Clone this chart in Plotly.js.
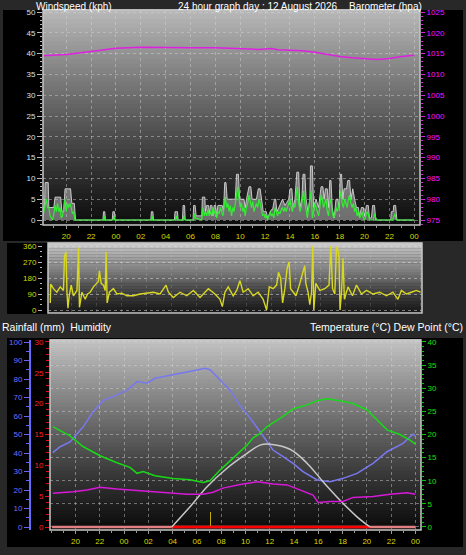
<!DOCTYPE html>
<html><head><meta charset="utf-8">
<script src="https://cdn.plot.ly/plotly-3.0.1.min.js"></script>
<style>html,body{margin:0;padding:0;background:#282828;}#chart{width:466px;height:555px;}</style>
</head><body><div id="chart"></div>
<script>
// ---- tick labels (hours relative to 00:00 of the day; negative = previous evening)
const hourTicks = [-4,-2,0,2,4,6,8,10,12,14,16,18,20,22,24];
const hourLabels = ['20','22','00','02','04','06','08','10','12','14','16','18','20','22','00'];
const dirTicks = [0,90,180,270,360];
const dirLabels = ['N','E','S','W','N'];

// ---- wind gust (kph)
const gustT = [-5.87,-5.75,-5.7,-5.45,-5.4,-5.0,-4.9,-4.45,-4.35,-4.2,-4.1,-3.65,-3.55,-3.35,-3.25,
 -1.05,-1.0,-0.9,-0.85,-0.3,-0.25,-0.12,-0.07,2.8,2.85,2.97,3.02,4.7,4.75,4.95,5.0,5.35,5.4,5.52,5.57,
 6.2,6.25,6.37,6.45,6.9,6.95,7.15,7.2,7.3,7.45,7.52,7.6,7.72,7.8,7.9,8.02,8.1,8.2,8.55,8.65,8.75,8.85,8.95,
 9.6,9.7,9.85,9.95,10.3,10.4,10.5,10.7,10.85,10.95,11.3,11.45,11.6,11.7,11.85,12.1,12.2,12.5,12.6,12.75,12.85,12.95,
 13.2,13.4,13.6,13.9,14.0,14.15,14.25,14.4,14.55,14.7,14.8,14.95,15.05,15.2,15.3,15.45,15.6,15.65,15.8,15.9,
 16.1,16.3,16.5,16.65,16.75,16.85,17.0,17.1,17.2,17.3,17.4,17.55,17.7,17.85,17.95,18.05,18.15,18.25,18.35,18.55,
 18.65,18.8,18.9,19.05,19.2,19.35,19.5,19.6,19.75,19.9,20.0,20.15,20.3,20.4,20.55,20.65,20.8,20.9,
 22.1,22.15,22.3,22.35,22.5,22.6,24.0];
const gustV = [3,3,9,9,3,3,5.5,5.5,2,2,7.5,7.5,4,4,0,
 0,2,2,0,0,2,2,0,0,2,2,0,0,2,2,0,0,3.5,3.5,0,
 0,3.5,3.5,1,1,5.5,5.5,2,3.5,3.5,1.5,3.5,3.5,1,3.5,3.5,1,3.5,3.5,2,9,9,5,
 5,11,11,5,5,3,5,8,8,5,5,7.5,7.5,5,2,2,0.5,2.5,2.5,5,5,2,
 3.5,5,3.5,5,7.5,7.5,3,5,11.5,11.5,3,5,11,11,5,2,5,13,13,3,
 5,3,8,8,5,7.5,7.5,3,9.5,9.5,3,0.5,5,5,3,11,11,5,7.5,7.5,
 9.5,9.5,5,7.5,5,3,3,1,3,3,1,3.5,3.5,0.5,0.5,3.5,3.5,0,
 0,2,2,3.5,3.5,0,0];

// ---- average wind speed (kph)
const speedT = [-5.87,-5.8,-5.7,-5.6,-5.5,-5.4,-5.3,-5.1,-5.0,-4.9,-4.8,-4.7,-4.6,-4.5,-4.4,-4.3,-4.2,-4.1,-4.0,-3.9,-3.8,-3.7,-3.6,-3.5,-3.4,-3.3,
 -0.95,-0.9,-0.85,-0.22,-0.18,-0.1,2.88,2.92,2.97,4.8,4.85,4.9,4.95,5.4,5.45,5.55,6.25,6.3,6.4,6.9,
 7.0,7.1,7.2,7.3,7.4,7.5,7.6,7.7,7.8,7.9,8.0,8.1,8.2,8.3,8.4,8.5,8.6,8.7,8.8,8.9,9.0,9.1,9.2,9.3,9.4,9.5,9.6,9.7,9.8,9.9,
 10.0,10.1,10.2,10.3,10.4,10.5,10.6,10.7,10.8,10.9,11.0,11.1,11.2,11.3,11.4,11.5,11.6,11.7,11.8,11.9,
 12.0,12.1,12.2,12.3,12.4,12.5,12.6,12.7,12.8,12.9,13.0,13.1,13.2,13.3,13.4,13.5,13.6,13.7,13.8,13.9,
 14.0,14.1,14.2,14.3,14.4,14.5,14.6,14.7,14.8,14.9,15.0,15.1,15.2,15.3,15.4,15.5,15.6,15.7,15.8,15.9,
 16.0,16.1,16.2,16.3,16.4,16.5,16.6,16.7,16.8,16.9,17.0,17.1,17.2,17.3,17.4,17.5,17.6,17.7,17.8,17.9,
 18.0,18.1,18.2,18.3,18.4,18.5,18.6,18.7,18.8,18.9,19.0,19.1,19.2,19.3,19.4,19.5,19.6,19.7,19.8,19.9,
 20.0,20.1,20.2,20.3,20.4,20.7,20.8,20.9,21.0,22.25,22.35,22.45,22.55,24.0];
const speedV = [1,2,3,5,3,3,1,0,1.5,3.5,2,4,2,3,0.5,1,3,5,2,4,3,4,3,1.5,2,0,
 0,1,0,0,1,0,0,1,0,0,1,0.5,0,0,1,0,0,1.5,0.5,0,
 3,1,2,1,2.5,1,2,1,3,1.5,2.5,0.5,2,1.5,3,2,1,3,5.5,3,4,2,3.5,1,3,2,4,6,8,5,
 3,4,2,3,1,3,4,6,4,3,4.5,2,3,4,3,5,4,2,1,1.5,
 0.5,1,0,1,2,1,1.5,0.5,3,2,1,2,1.5,2.5,3,2,3,2,3,4,
 5,3,2,4,3,6,8,4,2,3,5,7,4,2,0.5,3,5,7,0.5,2,
 4,3,2,1,3,6,5,3,4,5,2,1,4,5,2,0.5,1,3,2,3,
 5,7,4,3,5,4,3,5,6,4,3,4,2,3,1,2,0.5,1,2,0.5,
 0,1,2,1.5,0,0,1.5,0.5,0,0,1,1.5,0,0];

// ---- barometer (hPa)
const baroT = [-5.87,-4,-2,0,2,4,6,8,10,11.5,12.5,13,14,15,16,17,18,19,20,21,22,23,24];
const baroV = [1014.5,1014.8,1015.5,1016.3,1016.5,1016.4,1016.4,1016.4,1016.2,1016.0,1016.2,1015.9,1015.8,1015.7,1015.3,1014.8,1014.3,1014.0,1013.8,1013.6,1013.8,1014.3,1014.6];

// ---- wind direction (degrees)
const dirT = [-5.69,-5.65,-5.43,-5.16,-4.89,-4.63,-4.55,-4.43,-4.35,-4.27,-4.17,-4.01,-3.83,-3.55,-3.42,-3.35,-3.15,-2.89,-2.7,-2.49,-2.23,-2.01,-1.83,-1.75,-1.61,-1.43,-1.29,-1.21,-1.13,-0.95,-0.63,-0.35,
 0.05,0.45,0.98,1.51,2.05,2.58,3.11,3.59,3.78,4.17,4.71,5.25,5.78,6.31,6.98,7.51,7.91,8.1,8.31,8.57,8.97,9.25,9.51,9.77,
 10.17,10.57,10.97,11.37,11.65,11.86,12.17,12.45,12.6,12.77,12.93,13.11,13.29,13.45,13.57,14.0,14.27,14.53,14.7,14.79,14.97,15.11,15.25,15.35,15.43,15.59,15.91,
 16.31,16.65,16.79,16.93,17.11,17.25,17.35,17.45,17.53,17.65,17.77,17.88,18.17,18.53,18.85,19.25,19.65,20.17,20.71,21.25,21.77,22.17,22.45,22.85,23.25,23.65,23.97];
const dirV = [39,146,120,100,130,110,300,328,100,10,80,140,80,110,350,15,100,60,90,100,130,150,160,221,150,140,110,326,40,100,120,90,
 95,80,80,90,95,100,90,140,100,70,100,80,110,70,120,90,60,19,100,130,80,110,165,100,
 120,80,100,60,0,130,120,140,212,180,40,120,234,270,120,80,140,210,249,150,100,30,100,360,0,150,110,
 120,140,360,120,90,355,340,300,0,100,292,60,130,80,140,90,110,90,100,80,100,60,110,90,100,110,100];

// ---- humidity (%)
const humT = [-5.87,-5.27,-4.45,-3.38,-2.55,-1.73,-0.58,0.25,1.07,1.89,2.55,3.79,4.86,6.01,6.67,7.08,7.91,8.73,9.56,10.38,11.2,12.27,13.1,13.92,14.74,15.9,16.97,18.04,19.19,20.51,21.66,22.98,23.81,24.0];
const humV = [40.2,43.4,46,54,62.3,68.3,71.4,74,78.6,77.7,80.4,82.2,83.4,84.9,85.8,85,79.5,74,65.5,59,51.5,41.6,38,34.4,29.9,25.4,24.5,26.3,29,34.4,40.7,45.2,50.3,49];

// ---- temperature (°C)
const tempT = [-5.87,-4.45,-3.38,-1.98,-0.58,0.49,1.07,1.57,2.55,4.04,5.44,6.51,7.08,7.91,8.98,10.13,10.63,11.04,11.78,12.85,13.92,15.07,15.9,16.72,17.79,18.86,20.02,20.84,21.66,22.73,23.56,24.0];
const tempV = [21.7,19.7,17.4,15.4,13.9,12.9,11.6,12.0,11.1,10.5,10.2,9.6,10.0,12.3,14.9,17.7,19.3,19.9,21.7,23.5,25.5,26.4,27.3,27.7,27.3,26.7,25.3,23.1,21.0,20.0,18.8,17.9];

// ---- dew point (°C)
const dewT = [-5.87,-4.2,-3.05,-1.98,-0.58,1.32,2.72,4.04,5.19,6.51,7.33,8.15,9.56,11.04,12.27,13.43,14.5,15.57,15.98,16.97,18.04,18.86,20.51,21.91,23.31,24.0];
const dewV = [7.3,7.6,8.0,8.6,8.2,7.8,7.5,7.3,7.1,7.1,7.5,8.4,9.2,9.8,9.3,9.1,8.0,6.9,5.3,5.5,5.5,6.4,6.6,7.1,7.4,7.1];

// ---- solar curve (grey, drawn on the temperature scale)
const solarT = [3.93,5.44,6.84,8.48,10.13,11.2,12.03,13.67,15.07,16.39,17.79,19.19,20.26];
const solarV = [0,4.4,8.7,12.7,15.9,17.7,17.9,16.8,13.8,9.8,5.8,2.2,0];

// ---- rainfall (mm)
const rainT = [-5.93,24.0];
const rainV = [0,0];
const dayT = [3.93,20.26];
const dayV = [0,0];
const rainBarT = [7.14];
const rainBarV = [2.5];

// ================= drawing =================
const W = 466, H = 555;
const px = x => x / W;
const py = y => 1 - y / H;
const FONT = 'Liberation Sans, Arial, sans-serif';

const shapes = [];
function panel(x0, y0, x1, y1) {
  shapes.push({type:'rect', xref:'paper', yref:'paper', x0:px(x0), x1:px(x1), y0:py(y1), y1:py(y0),
    fillcolor:'#000000', line:{width:0}, layer:'below'});
}
panel(3, 10, 463, 241);
panel(7, 243, 422, 314);
panel(7, 338, 463, 547);

function gradient(xr, yr, top, bottom, n) {
  for (let i = 0; i < n; i++) {
    const f = (i + 0.5) / n;
    const c = Math.round(bottom + (top - bottom) * Math.pow(f, 1.15));
    shapes.push({type:'rect', xref:xr + ' domain', yref:yr + ' domain', x0:0, x1:1, y0:i/n, y1:(i+1)/n + 0.004,
      fillcolor:`rgb(${c},${c},${c})`, line:{width:0}, layer:'below'});
  }
  shapes.push({type:'rect', xref:xr + ' domain', yref:yr + ' domain', x0:0, x1:1, y0:0, y1:1,
    fillcolor:'rgba(0,0,0,0)', line:{width:1.5, color:'#c8c8c8'}, layer:'above'});
}
gradient('x', 'y', 185, 14, 48);
gradient('x2', 'y3', 205, 22, 24);
gradient('x3', 'y5', 195, 12, 48);

const gridCol = 'rgba(215,215,215,0.45)';
const tickFontX = {family:FONT, size:8, color:'#d8d800'};

const traces = [
  {x:gustT, y:gustV, xaxis:'x', yaxis:'y', type:'scatter', mode:'lines', fill:'tozeroy',
   fillcolor:'rgba(205,205,205,0.5)', line:{color:'rgba(220,220,220,0.85)', width:1}, name:'Gust'},
  {x:speedT, y:speedV, xaxis:'x', yaxis:'y', type:'scatter', mode:'lines',
   line:{color:'#30ee30', width:1.2}, name:'Speed'},
  {x:baroT, y:baroV, xaxis:'x', yaxis:'y2', type:'scatter', mode:'lines',
   line:{color:'#e020e0', width:1.5}, name:'Barometer'},
  {x:dirT, y:dirV, xaxis:'x2', yaxis:'y3', type:'scatter', mode:'lines',
   line:{color:'#d8d820', width:1.4}, name:'Direction'},
  {x:rainT, y:rainV, xaxis:'x3', yaxis:'y6', type:'scatter', mode:'lines',
   line:{color:'#e08080', width:2.5}, name:'Rainfall'},
  {x:dayT, y:dayV, xaxis:'x3', yaxis:'y6', type:'scatter', mode:'lines',
   line:{color:'#ff0000', width:2.5}, name:'Day'},
  {x:rainBarT, y:rainBarV, xaxis:'x3', yaxis:'y6', type:'bar', width:0.12,
   marker:{color:'rgba(220,200,0,0.85)', line:{width:0}}, name:'Rain'},
  {x:solarT, y:solarV, xaxis:'x3', yaxis:'y7', type:'scatter', mode:'lines',
   line:{color:'#c8c8c8', width:1.5, shape:'spline'}, name:'Solar'},
  {x:humT, y:humV, xaxis:'x3', yaxis:'y5', type:'scatter', mode:'lines',
   line:{color:'#7878f0', width:1.5}, name:'Humidity'},
  {x:dewT, y:dewV, xaxis:'x3', yaxis:'y7', type:'scatter', mode:'lines',
   line:{color:'#d818d8', width:1.5}, name:'Dew Point'},
  {x:tempT, y:tempV, xaxis:'x3', yaxis:'y7', type:'scatter', mode:'lines',
   line:{color:'#18d818', width:1.5}, name:'Temperature'}
];

const xCommon = {
  tickmode:'array', tickvals:hourTicks, ticktext:hourLabels, tickfont:tickFontX,
  ticks:'outside', ticklen:3, tickcolor:'#9a9a9a',
  showgrid:true, gridcolor:gridCol, griddash:'dot', gridwidth:1,
  zeroline:false, showline:false,
  minor:{tickmode:'linear', tick0:0, dtick:1, ticks:'outside', ticklen:2, tickcolor:'#9a9a9a', showgrid:false}
};

const layout = {
  width:W, height:H, margin:{l:0, r:0, t:0, b:0},
  paper_bgcolor:'#282828', plot_bgcolor:'rgba(0,0,0,0)',
  showlegend:false, hovermode:false, bargap:0,
  font:{family:FONT, color:'#ffffff'},
  xaxis: Object.assign({}, xCommon, {domain:[px(43), px(420)], range:[-5.87, 24.46], anchor:'y'}),
  yaxis: {domain:[py(225), py(10)], range:[-1.2, 50.48], tick0:0, dtick:5,
    tickfont:{family:FONT, size:8, color:'#d4e2ff'}, ticks:'outside', ticklen:5, tickcolor:'#b8b8b8',
    showgrid:true, gridcolor:gridCol, griddash:'dot', zeroline:false, showline:false,
    minor:{dtick:1, tick0:0, ticks:'outside', ticklen:2, tickcolor:'#b8b8b8', showgrid:false}},
  yaxis2: {overlaying:'y', side:'right', anchor:'x', range:[973.8, 1025.48], tick0:975, dtick:5,
    tickfont:{family:FONT, size:8, color:'#ff10ff'}, ticks:'outside', ticklen:4, tickcolor:'#e020e0',
    showgrid:false, zeroline:false, showline:false,
    minor:{dtick:1, tick0:975, ticks:'outside', ticklen:2, tickcolor:'#e020e0', showgrid:false}},
  xaxis2: {domain:[px(48), px(422)], range:[-5.87, 24.1], anchor:'y3', showticklabels:false,
    tickvals:hourTicks, ticks:'', showgrid:true, gridcolor:'rgba(215,215,215,0.18)', griddash:'dot',
    zeroline:false, showline:false},
  yaxis3: {domain:[py(313), py(243)], range:[-16.9, 376.9], tickmode:'array', tickvals:dirTicks,
    tickfont:{family:FONT, size:8, color:'#d8d800'}, ticks:'outside', ticklen:4, tickcolor:'#b8b8b8',
    showgrid:true, gridcolor:'rgba(225,225,225,0.5)', griddash:'dot', zeroline:false, showline:false,
    minor:{dtick:30, tick0:0, ticks:'outside', ticklen:2, tickcolor:'#b8b8b8', showgrid:false}},
  yaxis4: {overlaying:'y3', side:'right', anchor:'free', position:px(428), range:[-16.9, 376.9],
    tickmode:'array', tickvals:dirTicks, ticktext:dirLabels, ticks:'',
    tickfont:{family:FONT, size:11.5, color:'#ffffff'}, showgrid:false, zeroline:false, showline:false},
  xaxis3: Object.assign({}, xCommon, {domain:[px(50), px(421)], range:[-6.1, 24.46], anchor:'y5'}),
  yaxis5: {domain:[py(530), py(340)], range:[-1.62, 101.08], anchor:'free', position:px(30), side:'left',
    tick0:0, dtick:10, tickfont:{family:FONT, size:8, color:'#7070ff'}, ticks:'outside', ticklen:5,
    tickcolor:'#6464ff', showline:true, linecolor:'#6a6aff', linewidth:2, showgrid:false, zeroline:false,
    minor:{dtick:5, tick0:0, ticks:'outside', ticklen:3, tickcolor:'#6464ff', showgrid:false}},
  yaxis6: {overlaying:'y5', anchor:'free', position:px(49), side:'left', range:[-0.486, 30.32],
    tick0:0, dtick:5, tickfont:{family:FONT, size:8, color:'#ff2020'}, ticks:'outside', ticklen:4,
    tickcolor:'#e01010', showline:false, showgrid:false, zeroline:false,
    minor:{dtick:1, tick0:0, ticks:'outside', ticklen:3, tickcolor:'#e01010', showgrid:false}},
  yaxis7: {overlaying:'y5', anchor:'x3', side:'right', range:[-0.65, 40.43], tick0:0, dtick:5,
    tickfont:{family:FONT, size:8, color:'#10e010'}, ticks:'outside', ticklen:4, tickcolor:'#10c010',
    showgrid:true, gridcolor:gridCol, griddash:'dot', zeroline:false, showline:false,
    minor:{dtick:1, tick0:0, ticks:'outside', ticklen:2, tickcolor:'#10c010', showgrid:false}},
  shapes: shapes,
  annotations: [
    {text:'Windspeed (kph)', xref:'paper', yref:'paper', x:px(34), y:py(6), xanchor:'left', yanchor:'middle',
     showarrow:false, font:{family:FONT, size:10, color:'#ffffff'}},
    {text:'24 hour graph day : 12 August 2026', xref:'paper', yref:'paper', x:px(257), y:py(6), xanchor:'center', yanchor:'middle',
     showarrow:false, font:{family:FONT, size:10, color:'#ffffff'}},
    {text:'Barometer (hpa)', xref:'paper', yref:'paper', x:px(424), y:py(6), xanchor:'right', yanchor:'middle',
     showarrow:false, font:{family:FONT, size:10, color:'#ffffff'}},
    {text:'Rainfall (mm)\u00a0 Humidity', xref:'paper', yref:'paper', x:px(0), y:py(327), xanchor:'left', yanchor:'middle',
     showarrow:false, font:{family:FONT, size:10.5, color:'#ffffff'}},
    {text:'Temperature (°C) Dew Point (°C)', xref:'paper', yref:'paper', x:px(465), y:py(327), xanchor:'right', yanchor:'middle',
     showarrow:false, font:{family:FONT, size:10.5, color:'#ffffff'}}
  ]
};

Plotly.newPlot('chart', traces, layout, {staticPlot:true, displayModeBar:false});
</script>
</body></html>
